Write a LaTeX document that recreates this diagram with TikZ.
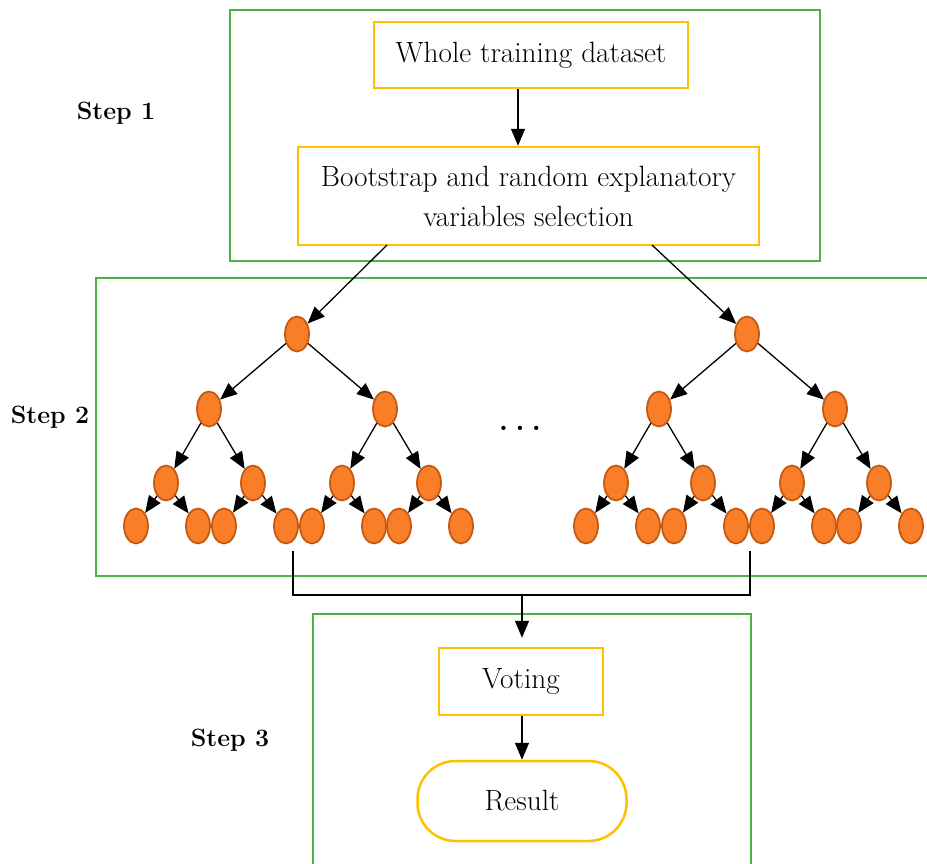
\documentclass[tikz,border=0pt]{standalone}
\usepackage{fontspec}
\setmainfont{Latin Modern Roman}
\usetikzlibrary{shapes.geometric,arrows.meta}
\definecolor{grn}{RGB}{80,176,72}
\definecolor{ylw}{RGB}{255,192,0}
\definecolor{orfill}{RGB}{250,125,40}
\definecolor{ordraw}{RGB}{197,90,17}
\begin{document}
\begin{tikzpicture}[x=1pt,y=-1pt,
  greenbox/.style={draw=grn,line width=2.7pt},
  ybox/.style={draw=ylw,line width=2.5pt,fill=white,align=center,inner sep=0pt,font=\fontsize{29.3}{40}\selectfont},
  leaf/.style={ellipse,draw=ordraw,fill=orfill,line width=1.8pt,minimum width=24pt,minimum height=35pt,inner sep=0pt},
  arr/.style={line width=1.3pt,-{Triangle[length=17pt,width=14pt]}},
  plain/.style={line width=1.3pt},
  steplabel/.style={font=\fontsize{25}{30}\selectfont\bfseries}]
\useasboundingbox (0,0) rectangle (927,863);
% green group boxes
\draw[greenbox] (230,10) rectangle (820,261);
\draw[greenbox] (935,278) -- (96,278) -- (96,576) -- (935,576);
\draw[greenbox] (313,870) -- (313,614) -- (751,614) -- (751,870);
% step labels
\node[steplabel] (s1) at (116,113) {Step 1};
\node[steplabel] (s2) at (50,417) {Step 2};
\node[steplabel] (s3) at (230,740) {Step 3};
% step 1 boxes
\node[ybox,minimum width=314pt,minimum height=66pt] (whole) at (531,55) {Whole training dataset};
\node[ybox,minimum width=461pt,minimum height=98pt] (boot) at (528.5,196) {Bootstrap and random explanatory\\variables selection};
\draw[arr] (whole.south -| 518,0) -- (boot.north -| 518,0);
% trees
\foreach \t/\dx in {1/0,2/450}{
  \node[leaf] (t\t r) at (297+\dx,334) {};
  \node[leaf] (t\t a) at (209+\dx,409) {};
  \node[leaf] (t\t b) at (385+\dx,409) {};
  \node[leaf] (t\t c) at (166+\dx,483) {};
  \node[leaf] (t\t d) at (253+\dx,483) {};
  \node[leaf] (t\t e) at (342+\dx,483) {};
  \node[leaf] (t\t f) at (429+\dx,483) {};
  \node[leaf] (t\t g) at (136+\dx,526) {};
  \node[leaf] (t\t h) at (198+\dx,526) {};
  \node[leaf] (t\t i) at (224+\dx,526) {};
  \node[leaf] (t\t j) at (286+\dx,526) {};
  \node[leaf] (t\t k) at (312+\dx,526) {};
  \node[leaf] (t\t l) at (374+\dx,526) {};
  \node[leaf] (t\t m) at (399+\dx,526) {};
  \node[leaf] (t\t n) at (461+\dx,526) {};
  \draw[arr] (t\t r) -- (t\t a);
  \draw[arr] (t\t r) -- (t\t b);
  \draw[arr] (t\t a) -- (t\t c);
  \draw[arr] (t\t a) -- (t\t d);
  \draw[arr] (t\t b) -- (t\t e);
  \draw[arr] (t\t b) -- (t\t f);
  \draw[arr] (t\t c) -- (t\t g);
  \draw[arr] (t\t c) -- (t\t h);
  \draw[arr] (t\t d) -- (t\t i);
  \draw[arr] (t\t d) -- (t\t j);
  \draw[arr] (t\t e) -- (t\t k);
  \draw[arr] (t\t e) -- (t\t l);
  \draw[arr] (t\t f) -- (t\t m);
  \draw[arr] (t\t f) -- (t\t n);
}
\node[font=\fontsize{30}{30}\selectfont\bfseries] (dots) at (520,428) {.\hspace{7pt}.\hspace{7pt}.};
% bootstrap to roots
\coordinate (bL) at (387,245);
\coordinate (bR) at (652,245);
\draw[arr] (bL) -- (t1r);
\draw[arr] (bR) -- (t2r);
% collector
\coordinate (c1) at (293,551);
\coordinate (c2) at (750,551);
\coordinate (j1) at (293,595);
\coordinate (j2) at (750,595);
\coordinate (jm) at (522,595);
\draw[plain] (c1) -- (j1) -- (j2) -- (c2);
% step 3
\node[ybox,minimum width=164pt,minimum height=67pt] (vote) at (521,681.5) {Voting};
\node[ybox,rounded corners=38pt,minimum width=209pt,minimum height=80pt] (res) at (522,801) {Result};
\draw[arr,shorten >=9pt] (jm) -- (vote.north -| jm);
\draw[arr] (vote.south -| jm) -- (res.north -| jm);
\end{tikzpicture}
\end{document}
